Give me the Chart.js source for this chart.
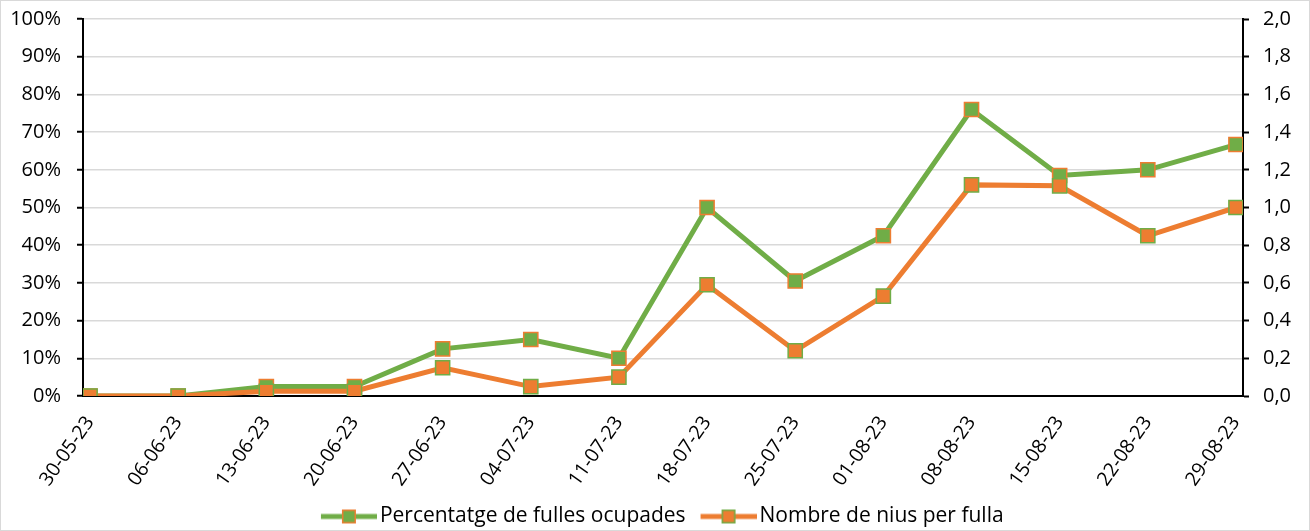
<!DOCTYPE html>
<html><head><meta charset="utf-8">
<script src="https://cdn.jsdelivr.net/npm/chart.js@4"></script>
<style>
html,body{margin:0;padding:0;background:#fff}
canvas{display:block}
</style></head><body>
<canvas id="c" width="1310" height="531"></canvas>
<script>
const categories = ['30-05-23','06-06-23','13-06-23','20-06-23','27-06-23','04-07-23','11-07-23','18-07-23','25-07-23','01-08-23','08-08-23','15-08-23','22-08-23','29-08-23'];
const percentOccupied = [0, 0, 2.5, 2.5, 12.5, 15, 10, 50, 30.5, 42.5, 76, 58.5, 60, 66.7];
const nestsPerLeaf = [0, 0, 0.025, 0.025, 0.15, 0.05, 0.1, 0.59, 0.24, 0.53, 1.12, 1.115, 0.85, 1.0];
const seriesNames = ['Percentatge de fulles ocupades', 'Nombre de nius per fulla'];
const leftTickValues = [0,10,20,30,40,50,60,70,80,90,100];
const rightTickValues = [0,0.2,0.4,0.6,0.8,1.0,1.2,1.4,1.6,1.8,2.0];

const GREEN = '#70AD47', ORANGE = '#ED7D31';
const FAMILY = '"Open Sans", "Liberation Sans", sans-serif';
const YFONT = {family: FAMILY, size: 20};
const XFONT = {family: FAMILY, size: 19.5};
const LFONT = {family: FAMILY, size: 21};

function legendIcon(lineColor, fill, border) {
  const c = document.createElement('canvas');
  c.width = 78; c.height = 16;
  const g = c.getContext('2d');
  g.strokeStyle = lineColor; g.lineWidth = 5;
  g.beginPath(); g.moveTo(22, 8); g.lineTo(78, 8); g.stroke();
  g.fillStyle = fill; g.fillRect(43, 1, 14, 14);
  g.strokeStyle = border; g.lineWidth = 1.5; g.strokeRect(43.75, 1.75, 12.5, 12.5);
  return c;
}
const icons = [legendIcon(GREEN, GREEN, ORANGE), legendIcon(ORANGE, ORANGE, GREEN)];

const borderPlugin = {
  id: 'frame',
  afterDraw(chart) {
    const ctx = chart.ctx;
    ctx.save();
    ctx.strokeStyle = '#d9d9d9'; ctx.lineWidth = 1;
    ctx.strokeRect(0.5, 0.5, chart.width - 1, chart.height - 1);
    ctx.restore();
  }
};

new Chart(document.getElementById('c'), {
  type: 'line',
  data: {
    datasets: [
      {
        label: seriesNames[0],
        data: percentOccupied.map((v, i) => ({x: i, y: v})),
        yAxisID: 'yL',
        borderColor: GREEN, backgroundColor: GREEN, borderWidth: 5,
        pointStyle: 'rect', pointRadius: 10, pointBackgroundColor: GREEN,
        pointBorderColor: ORANGE, pointBorderWidth: 1.5, tension: 0, order: 1
      },
      {
        label: seriesNames[1],
        data: nestsPerLeaf.map((v, i) => ({x: i, y: v})),
        yAxisID: 'yR',
        borderColor: ORANGE, backgroundColor: ORANGE, borderWidth: 5,
        pointStyle: 'rect', pointRadius: 10, pointBackgroundColor: ORANGE,
        pointBorderColor: GREEN, pointBorderWidth: 1.5, tension: 0, order: 0
      }
    ]
  },
  options: {
    responsive: false,
    animation: false,
    layout: {padding: {top: 19, left: 0, right: 0, bottom: -6}},
    plugins: {
      tooltip: {enabled: false},
      legend: {
        position: 'bottom',
        labels: {
          font: LFONT, color: '#000', usePointStyle: true, pointStyleWidth: 63, padding: 0.5,
          generateLabels: (chart) => chart.data.datasets.map((ds, i) => ({
            text: ds.label, pointStyle: icons[i], datasetIndex: i, fontColor: '#000',
            hidden: false, lineWidth: 0, strokeStyle: 'transparent', fillStyle: 'transparent'
          }))
        }
      }
    },
    scales: {
      x: {
        type: 'linear', min: -0.08, max: 13.08,
        afterBuildTicks: (s) => { s.ticks = categories.map((_, i) => ({value: i})); },
        afterFit: (s) => { s.height = 109.5; },
        ticks: {
          font: XFONT, color: '#000', autoSkip: false, minRotation: 55, maxRotation: 55,
          padding: 8, callback: (v) => categories[v]
        },
        grid: {display: false},
        border: {display: true, color: '#000', width: 2}
      },
      yL: {
        position: 'left', min: 0, max: 100,
        afterBuildTicks: (s) => { s.ticks = leftTickValues.map(v => ({value: v})); },
        afterFit: (s) => { s.width = 83; s.paddingTop = 0; s.paddingBottom = 0; },
        ticks: {font: YFONT, color: '#000', padding: 16, callback: (v) => v + '%'},
        grid: {color: '#d9d9d9', lineWidth: 1.5, tickColor: '#000', tickLength: 6, tickWidth: 2},
        border: {display: true, color: '#000', width: 2}
      },
      yR: {
        position: 'right', min: 0, max: 2,
        afterBuildTicks: (s) => { s.ticks = rightTickValues.map(v => ({value: v})); },
        afterFit: (s) => { s.width = 67; s.paddingTop = 0; s.paddingBottom = 0; },
        ticks: {font: YFONT, color: '#000', padding: 14, callback: (v) => v.toFixed(1).replace('.', ',')},
        grid: {drawOnChartArea: false, tickColor: '#000', tickLength: 6, tickWidth: 2},
        border: {display: true, color: '#000', width: 2}
      }
    }
  },
  plugins: [borderPlugin]
});
</script>
</body></html>
